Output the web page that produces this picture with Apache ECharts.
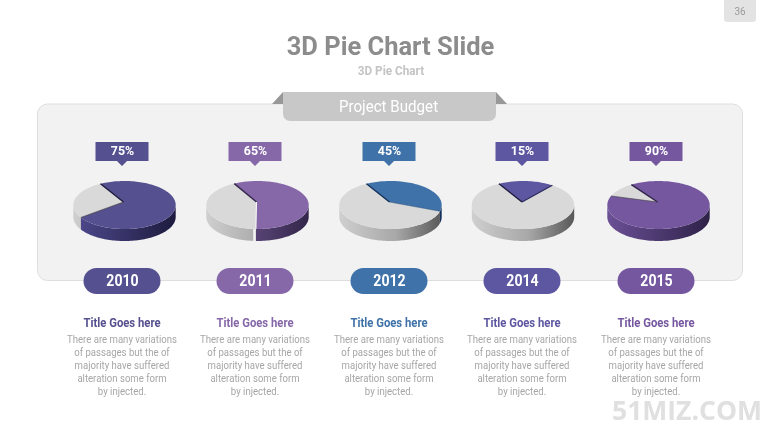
<!DOCTYPE html>
<html><head><meta charset="utf-8">
<style>html,body{margin:0;padding:0;background:#fff}#c{width:780px;height:439px}</style>
<script src="https://cdn.jsdelivr.net/npm/echarts@6/dist/echarts.min.js"></script>
</head><body><div id="c"></div>
<script>
// ---- data ----
const years = ['2010','2011','2012','2014','2015'];
const percentLabels = ['75%','65%','45%','15%','90%'];
// visible share of the coloured slice (as drawn, in %)
const colouredShare = [74,58,37,17.5,90];
const startAngles = [-28,-27,-28,-28,-32];
const colours = ['#55508f','#8668a9','#3f72a8','#5c57a0','#7557a0'];
const sideDark = ['#1d1b3e','#33264a','#12305a','#1d1b3e','#2e2248'];
const sideLight = ['#4f4a8e','#7a5f9c','#2c5a8e','#4f4a8e','#6b5096'];
const edgeEnd = ['rgba(60,60,60,.6)','#f6f6f6','rgba(40,70,110,.45)','#2c2a5c','rgba(60,60,60,.6)'];
const greySideGap = [0,3,0,0,0];
const titles = ['Title Goes here','Title Goes here','Title Goes here','Title Goes here','Title Goes here'];
const bodyLines = ['There are many variations','of passages but the of','majority have suffered','alteration some form','by injected.'];
const mainTitle = '3D Pie Chart Slide';
const subTitle = '3D Pie Chart';
const ribbonText = 'Project Budget';
const pageNumber = '36';
const watermark = '51MIZ.COM';

// ---- layout ----
const centres = [124.5,257.5,390.5,523,658.5];
const labelX = [122,255,389,522,656];
const rx = 51.2, ry = 24, cy = 205, depth = 12;

function pt(cx,a,r1){const t=a*Math.PI/180;return [cx+rx*r1*Math.sin(t),cy-ry*r1*Math.cos(t)];}
function arc(cx,a0,a1,dy){const p=[];const n=Math.max(2,Math.ceil(Math.abs(a1-a0)/2));
  for(let i=0;i<=n;i++){const q=pt(cx,a0+(a1-a0)*i/n,1);p.push([q[0],q[1]+dy]);}return p;}
function sideRanges(a0,a1){const out=[];for(let k=-1;k<=1;k++){const s=Math.max(a0,90+360*k),e=Math.min(a1,270+360*k);if(e>s)out.push([s,e]);}return out;}

function renderSlice(params,api){
  const cx=api.value(0), start=api.value(1), share=api.value(2), kind=api.value(3), idx=api.value(4);
  const a0=start, a1=start+share*3.6, kids=[];
  const grey=kind===0;
  const stops=grey?[{offset:0,color:'#cfcfcf'},{offset:.55,color:'#a8a8a8'},{offset:1,color:'#585858'}]
                  :[{offset:0,color:sideLight[idx]},{offset:1,color:sideDark[idx]}];
  const grad=new echarts.graphic.LinearGradient(cx-rx,0,cx+rx,0,stops,true);
  sideRanges(grey?a0+greySideGap[idx]:a0,a1).forEach(r=>{
    const top=arc(cx,r[0],r[1],0), bot=arc(cx,r[1],r[0],depth);
    kids.push({type:'polygon',shape:{points:top.concat(bot)},style:{fill:grad}});
  });
  const apex=[cx-1,cy-3];
  const fill=grey?'#d9d9d9':colours[idx];
  kids.push({type:'polygon',shape:{points:[apex].concat(arc(cx,a0,a1,0))},style:{fill}});
  if(!grey){
    kids.push({type:'polyline',shape:{points:[pt(cx,a0,1),apex]},style:{stroke:sideDark[idx],lineWidth:1.4,fill:null}});
    kids.push({type:'polyline',shape:{points:[apex,pt(cx,a1,1)]},style:{stroke:edgeEnd[idx],lineWidth:1.1,fill:null}});
  }
  return {type:'group',children:kids};
}

const series=[];
years.forEach((y,i)=>{
  const a=startAngles[i], s=colouredShare[i];
  series.push({type:'custom',coordinateSystem:'none',z:5,silent:true,animation:false,renderItem:renderSlice,
    data:[[centres[i],a+s*3.6,100-s,0,i],[centres[i],a,s,1,i]],encode:{}});
});

const body='Roboto', gfx=[];
function txt(t,x,y,font,fill,sx,z){gfx.push({type:'text',x,y,scaleX:sx||1,z:z||10,silent:true,
  style:{text:t,x:0,y:0,font:font+' '+body,fill,align:'center',verticalAlign:'middle'}});}
gfx.push({type:'rect',z:1,shape:{x:37.5,y:104,width:705,height:176.5,r:10},style:{fill:'#f2f2f2',stroke:'#dedede',lineWidth:1}});
gfx.push({type:'polygon',z:2,shape:{points:[[272,104],[283,92],[283,104]]},style:{fill:'#989898'}});
gfx.push({type:'polygon',z:2,shape:{points:[[496,92],[507,104],[496,104]]},style:{fill:'#989898'}});
gfx.push({type:'rect',z:3,shape:{x:283,y:92,width:213,height:29,r:[0,0,7,7]},style:{fill:'#c8c8c8'}});
txt(ribbonText,388.5,107.5,'17px','#ffffff',.89);
txt(mainTitle,390.5,48.5,'bold 26px','#8c8c8c',.98);
txt(subTitle,391,71.5,'bold 12.5px','#c4c4c4',.94);
gfx.push({type:'rect',z:1,shape:{x:724,y:0,width:32,height:22,r:[0,0,3,3]},style:{fill:'#e3e3e3'}});
txt(pageNumber,740,12,'10px','#9a9a9a');
years.forEach((y,i)=>{
  const x=labelX[i],c=colours[i];
  gfx.push({type:'polygon',z:6,shape:{points:[[x-26.5,142],[x+26.5,142],[x+26.5,161],[x+5,161],[x,166],[x-5,161],[x-26.5,161]]},style:{fill:c}});
  txt(percentLabels[i],x+.5,151.5,'bold 12px','#fff',1.03);
  gfx.push({type:'rect',z:6,shape:{x:x-38.5,y:268,width:77,height:26,r:13},style:{fill:c}});
  txt(y,x+.5,282,'bold 16px','#fff',.88);
  txt(titles[i],x,323.5,'bold 13px',c,.87);
  bodyLines.forEach((l,j)=>txt(l,x,340.5+13*j,'11px','#a6a6a6',.87));
});
gfx.push({type:'text',x:687,y:412,z:10,silent:true,style:{text:watermark,x:0,y:0,font:'bold 26.5px "Open Sans"',fill:'#e0e0e0',align:'center',verticalAlign:'middle'}});

const chart=echarts.init(document.getElementById('c'),null,{renderer:'canvas'});
chart.setOption({animation:false,backgroundColor:'#fff',graphic:{elements:gfx},series});
</script></body></html>
